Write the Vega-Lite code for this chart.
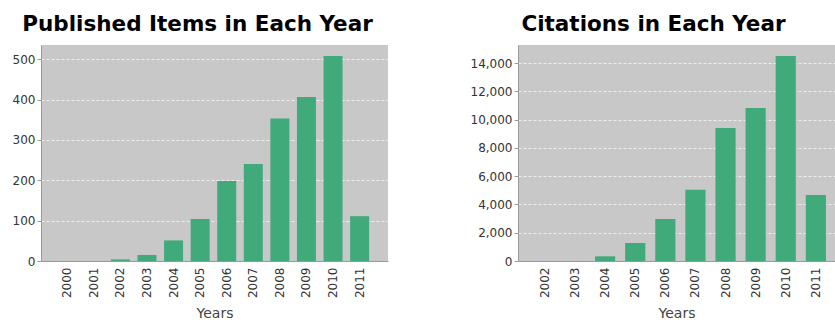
{
  "$schema": "https://vega.github.io/schema/vega-lite/v6.json",
  "background": "white",
  "padding": {"left": 0, "top": 13, "right": 0, "bottom": 0},
  "spacing": 75,
  "datasets": {
    "items": [
      {"year": "2000", "count": 0},
      {"year": "2001", "count": 0},
      {"year": "2002", "count": 4},
      {"year": "2003", "count": 15},
      {"year": "2004", "count": 51},
      {"year": "2005", "count": 104},
      {"year": "2006", "count": 198},
      {"year": "2007", "count": 240},
      {"year": "2008", "count": 353},
      {"year": "2009", "count": 406},
      {"year": "2010", "count": 508},
      {"year": "2011", "count": 111}
    ],
    "citations": [
      {"year": "2002", "count": 0},
      {"year": "2003", "count": 0},
      {"year": "2004", "count": 330},
      {"year": "2005", "count": 1273},
      {"year": "2006", "count": 2970},
      {"year": "2007", "count": 5044},
      {"year": "2008", "count": 9404},
      {"year": "2009", "count": 10819},
      {"year": "2010", "count": 14496},
      {"year": "2011", "count": 4667}
    ]
  },
  "config": {
    "font": "DejaVu Sans",
    "view": {"fill": "#c8c8c8", "stroke": null},
    "title": {"font": "DejaVu Sans", "fontSize": 21.5, "fontWeight": "bold", "color": "#000000", "anchor": "middle", "offset": 10},
    "axis": {
      "labelFont": "DejaVu Sans",
      "labelFontSize": 12,
      "labelColor": "#333333",
      "domainColor": "#9a9a9a",
      "tickColor": "#9a9a9a",
      "titleFont": "DejaVu Sans",
      "titleFontSize": 14,
      "titleFontWeight": "normal",
      "titleColor": "#444444"
    },
    "axisX": {"grid": false, "ticks": false, "tickSize": 0, "labelPadding": 6, "labelAngle": -90, "titlePadding": 9},
    "axisY": {"grid": true, "gridColor": "#eeeeee", "gridDash": [3, 2], "gridWidth": 1, "tickSize": 4, "labelPadding": 2, "title": null}
  },
  "hconcat": [
    {
      "width": 347,
      "height": 216,
      "title": {"text": "Published Items in Each Year", "dx": -17},
      "data": {"name": "items"},
      "mark": {"type": "bar", "color": "#41aa7a"},
      "encoding": {
        "x": {
          "field": "year",
          "type": "ordinal",
          "scale": {"paddingInner": 0.285, "paddingOuter": 0.67, "align": 0.47},
          "axis": {"title": "Years"}
        },
        "y": {
          "field": "count",
          "type": "quantitative",
          "scale": {"domain": [0, 535], "nice": false},
          "axis": {"values": [0, 100, 200, 300, 400, 500], "minExtent": 41, "maxExtent": 41}
        }
      }
    },
    {
      "width": 317,
      "height": 216,
      "title": {"text": "Citations in Each Year", "dx": -23},
      "data": {"name": "citations"},
      "mark": {"type": "bar", "color": "#41aa7a"},
      "encoding": {
        "x": {
          "field": "year",
          "type": "ordinal",
          "scale": {"paddingInner": 0.33, "paddingOuter": 0.43, "align": 0.65},
          "axis": {"title": "Years"}
        },
        "y": {
          "field": "count",
          "type": "quantitative",
          "scale": {"domain": [0, 15273], "nice": false},
          "axis": {"values": [0, 2000, 4000, 6000, 8000, 10000, 12000, 14000], "format": ",d", "minExtent": 55, "maxExtent": 55}
        }
      }
    }
  ]
}
